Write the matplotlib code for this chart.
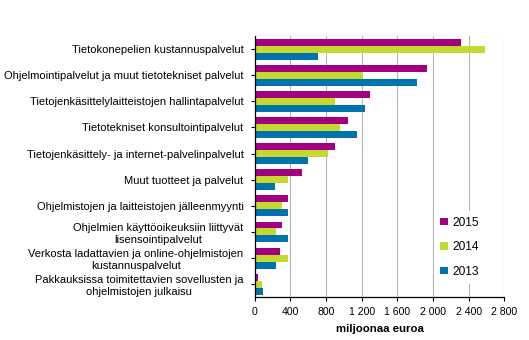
import matplotlib
matplotlib.use("Agg")
import matplotlib.pyplot as plt
import numpy as np

plt.rcParams['font.family'] = ['Liberation Sans', 'DejaVu Sans']

categories = [
    "Tietokonepelien kustannuspalvelut",
    "Ohjelmointipalvelut ja muut tietotekniset palvelut",
    "Tietojenkäsittelylaitteistojen hallintapalvelut",
    "Tietotekniset konsultointipalvelut",
    "Tietojenkäsittely- ja internet-palvelinpalvelut",
    "Muut tuotteet ja palvelut",
    "Ohjelmistojen ja laitteistojen jälleenmyynti",
    "Ohjelmien käyttöoikeuksiin liittyvät\nlisensointipalvelut",
    "Verkosta ladattavien ja online-ohjelmistojen\nkustannuspalvelut",
    "Pakkauksissa toimitettavien sovellusten ja\nohjelmistojen julkaisu",
]
v2015 = [2315, 1930, 1294, 1043, 901, 531, 374, 306, 284, 35]
v2014 = [2584, 1215, 901, 957, 822, 374, 306, 239, 374, 82]
v2013 = [710, 1821, 1238, 1148, 598, 228, 374, 374, 239, 93]
years = ["2015", "2014", "2013"]
colors = ["#A3007F", "#C3D92E", "#0072AE"]
xticks = [0, 400, 800, 1200, 1600, 2000, 2400, 2800]
xticklabels = ["0", "400", "800", "1 200", "1 600", "2 000", "2 400", "2 800"]

fig = plt.figure(figsize=(5.29, 3.40), dpi=100)
ax = fig.add_axes([0.4815, 0.1256, 0.4718, 0.7684])

y = np.arange(len(categories))
h = 0.8 / 3
for i, (vals, yr, c) in enumerate(zip([v2015, v2014, v2013], years, colors)):
    ax.barh(y - h + i * h, vals, height=h, color=c, label=yr, zorder=3)

ax.set_ylim(len(categories) - 0.5, -0.5)
ax.set_xlim(0, 2800)
ax.set_yticks(y)
ax.set_yticklabels(categories, fontsize=8.0)
for lab in ax.get_yticklabels():
    lab.set_multialignment('center')
ax.set_xticks(xticks)
ax.set_xticklabels(xticklabels, fontsize=7.6)
ax.tick_params(axis='y', length=3, width=0.8, pad=5)
ax.tick_params(axis='x', length=3, width=0.8, pad=4)
ax.grid(axis='x', color='#B4B4B4', linewidth=0.8, zorder=0)
for s in ['top', 'right']:
    ax.spines[s].set_visible(False)
for s in ['left', 'bottom']:
    ax.spines[s].set_linewidth(0.9)
    ax.spines[s].set_zorder(4)
ax.set_xlabel("miljoonaa euroa", fontsize=8.2, fontweight='bold', labelpad=5)

leg = ax.legend(loc='upper left', bbox_to_anchor=(0.72, 0.332), frameon=True,
                fontsize=8.6, handlelength=0.6, handleheight=0.6,
                labelspacing=1.06, handletextpad=0.4, borderpad=0.5,
                borderaxespad=0)
leg.get_frame().set_edgecolor('none')
leg.get_frame().set_facecolor('white')
leg.get_frame().set_alpha(1)
leg.set_zorder(5)

fig.savefig("out.png", dpi=100)
